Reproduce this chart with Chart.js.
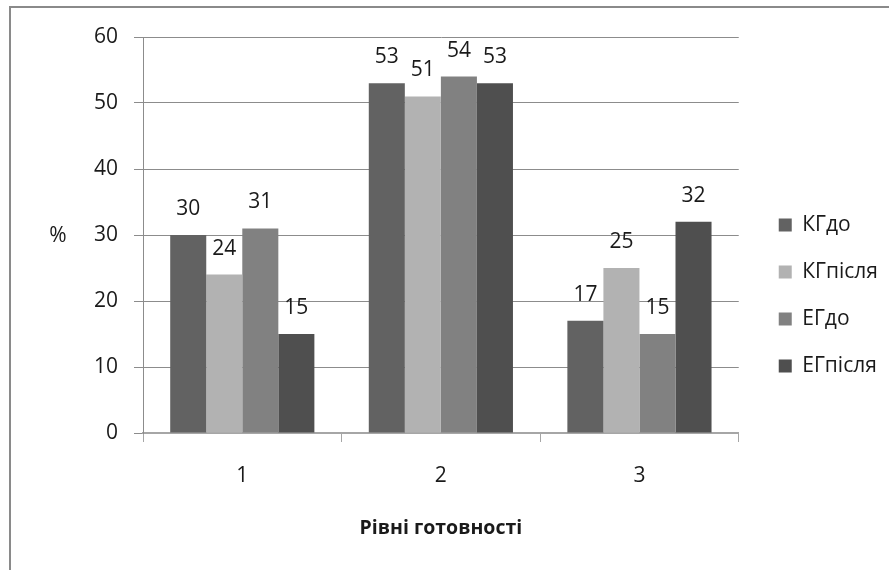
<!DOCTYPE html>
<html>
<head>
  <meta charset="utf-8">
  <title>Рівні готовності</title>
  <script src="https://cdn.jsdelivr.net/npm/chart.js"></script>
  <style>
    html, body {
      margin: 0;
      padding: 0;
      background: #fff;
      overflow: hidden;
    }
    .frame {
      position: absolute;
      left: 9px;
      top: 6px;
      width: 1000px;
      height: 1000px;
      border-left: 2px solid #8a8a8a;
      border-top: 2px solid #8a8a8a;
      pointer-events: none;
    }
  </style>
</head>
<body>
  <canvas id="chart" width="889" height="570"></canvas>
  <div class="frame"></div>

  <script>
    // values
    const levels = ['1', '2', '3'];
    const kgBefore = [30, 53, 17];
    const kgAfter = [24, 51, 25];
    const egBefore = [31, 54, 15];
    const egAfter = [15, 53, 32];
    const seriesNames = ['КГдо', 'КГпісля', 'ЕГдо', 'ЕГпісля'];
    const yTicks = [0, 10, 20, 30, 40, 50, 60];

    const fontFamily = "'Open Sans', 'Noto Sans', sans-serif";
    const textColor = '#1a1a1a';

    // numbers above the bars
    const barValues = {
      id: 'barValues',
      afterDatasetsDraw(chart) {
        const ctx = chart.ctx;
        ctx.save();
        ctx.font = '21px ' + fontFamily;
        ctx.fillStyle = textColor;
        ctx.textAlign = 'center';
        ctx.textBaseline = 'middle';
        chart.data.datasets.forEach((ds, i) => {
          chart.getDatasetMeta(i).data.forEach((bar, j) => {
            ctx.fillText(String(ds.data[j]), bar.x, bar.y - 26);
          });
        });
        ctx.restore();
      }
    };

    // horizontal "%" on the left, like the original
    const yUnit = {
      id: 'yUnit',
      afterDraw(chart) {
        const ctx = chart.ctx;
        const a = chart.chartArea;
        ctx.save();
        ctx.font = '21px ' + fontFamily;
        ctx.fillStyle = textColor;
        ctx.textAlign = 'center';
        ctx.textBaseline = 'middle';
        ctx.fillText('%', 58, (a.top + a.bottom) / 2 + 1);
        ctx.restore();
      }
    };

    new Chart(document.getElementById('chart'), {
      type: 'bar',
      data: {
        labels: levels,
        datasets: [
          { label: seriesNames[0], data: kgBefore, backgroundColor: '#626262' },
          { label: seriesNames[1], data: kgAfter, backgroundColor: '#b2b2b2' },
          { label: seriesNames[2], data: egBefore, backgroundColor: '#818181' },
          { label: seriesNames[3], data: egAfter, backgroundColor: '#4f4f4f' }
        ]
      },
      options: {
        responsive: false,
        animation: false,
        layout: { padding: { left: 0, top: 37, right: 1, bottom: 30 } },
        datasets: {
          bar: { barPercentage: 1, categoryPercentage: 0.726 }
        },
        plugins: {
          tooltip: { enabled: false },
          legend: {
            position: 'right',
            align: 'center',
            labels: {
              boxWidth: 13,
              boxHeight: 13,
              padding: 40,
              color: textColor,
              font: { family: fontFamily, size: 21, lineHeight: '7px' },
              generateLabels(chart) {
                const items = Chart.defaults.plugins.legend.labels.generateLabels(chart);
                items.forEach(it => { it.text = [it.text]; it.lineWidth = 0; });
                return items;
              }
            }
          }
        },
        scales: {
          x: {
            afterFit(s) { s.height = 107; },
            grid: {
              display: true,
              drawOnChartArea: false,
              drawTicks: true,
              tickLength: 9,
              offset: true,
              color: '#a6a6a6'
            },
            border: { display: true, color: '#a6a6a6', width: 2 },
            ticks: {
              color: textColor,
              padding: 21,
              font: { family: fontFamily, size: 21 }
            },
            title: {
              display: true,
              text: 'Рівні готовності',
              color: textColor,
              padding: 0,
              font: { family: fontFamily, size: 19.5, weight: 'bold' }
            }
          },
          y: {
            min: yTicks[0],
            max: yTicks[yTicks.length - 1],
            afterFit(s) { s.width = 143; },
            afterBuildTicks(s) { s.ticks = yTicks.map(v => ({ value: v })); },
            grid: {
              color: '#8c8c8c',
              tickColor: '#8c8c8c',
              tickLength: 9
            },
            border: { display: true, color: '#8c8c8c' },
            ticks: {
              color: textColor,
              padding: 16,
              font: { family: fontFamily, size: 21 }
            }
          }
        }
      },
      plugins: [barValues, yUnit]
    });
  </script>
</body>
</html>
